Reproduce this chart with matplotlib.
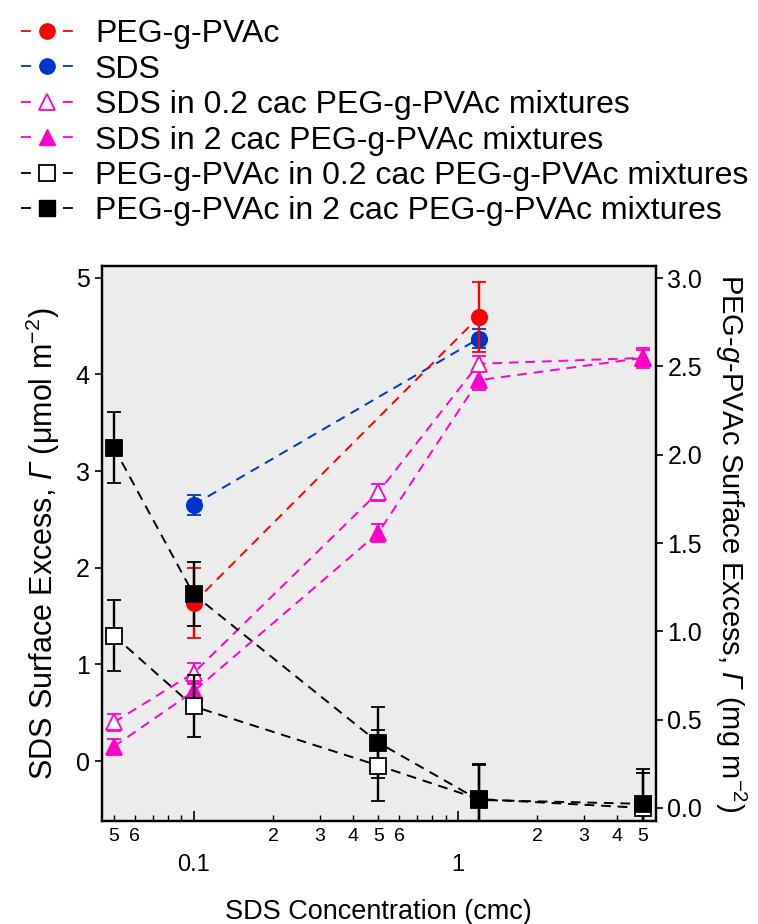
import matplotlib.pyplot as plt
from matplotlib.lines import Line2D

plt.rcParams['font.family'] = ['Liberation Sans', 'DejaVu Sans']
plt.rcParams['mathtext.fontset'] = 'custom'
plt.rcParams['mathtext.rm'] = 'Liberation Sans'
plt.rcParams['mathtext.it'] = 'Liberation Sans:italic'
# italic slot used for the Greek capital (mathtext keeps Greek capitals upright in 'it')
plt.rcParams['mathtext.sf'] = 'Liberation Sans:italic'

# === Data ===
# SDS concentration (cmc)
conc = [0.05, 0.1, 0.5, 1.2, 5]

# left axis: SDS surface excess (umol m^-2)
sds_x = [0.1, 1.2]
sds_y = [2.65, 4.37]
sds_err = [0.10, 0.10]

sds02_y = [0.40, 0.91, 2.78, 4.11, 4.17]
sds02_err = [0.09, 0.10, 0.09, 0.08, 0.08]
sds2_y = [0.15, 0.72, 2.36, 3.94, 4.17]
sds2_err = [0.08, 0.08, 0.09, 0.10, 0.10]

# right axis: PEG-g-PVAc surface excess (mg m^-2)
peg_x = [0.1, 1.2]
peg_y = [1.16, 2.78]
peg_err = [0.20, 0.20]

peg02_y = [0.975, 0.575, 0.24, 0.05, 0.00]
peg02_err = [0.20, 0.175, 0.20, 0.20, 0.20]
peg2_y = [2.04, 1.21, 0.37, 0.045, 0.023]
peg2_err = [0.20, 0.18, 0.20, 0.20, 0.20]

labels = ["PEG-g-PVAc", "SDS",
          "SDS in 0.2 cac PEG-g-PVAc mixtures",
          "SDS in 2 cac PEG-g-PVAc mixtures",
          "PEG-g-PVAc in 0.2 cac PEG-g-PVAc mixtures",
          "PEG-g-PVAc in 2 cac PEG-g-PVAc mixtures"]

red = '#ff0000'
blue = '#0033cc'
pink = '#ff00cc'

# === Figure ===
fig = plt.figure(figsize=(7.58, 9.24), dpi=100)
ax = fig.add_axes([0.134, 0.1115, 0.731, 0.6005])
ax.set_facecolor('#ececec')
ax2 = ax.twinx()

dash = (5, 3.5)


def series(axis, x, y, err, color, marker, face, ms=11, z=3):
    axis.errorbar(x, y, yerr=err, color=color, marker=marker, ms=ms,
                  mfc=face, mec=color, mew=1.3, ls='--', dashes=dash, lw=1.4,
                  ecolor=color, elinewidth=1.7, capsize=5, capthick=1.7,
                  zorder=z)


series(ax, sds_x, sds_y, sds_err, blue, 'o', blue)
series(ax, conc, sds02_y, sds02_err, pink, '^', 'white')
series(ax, conc, sds2_y, sds2_err, pink, '^', pink)
series(ax2, peg_x, peg_y, peg_err, red, 'o', red)
series(ax2, conc, peg02_y, peg02_err, 'black', 's', 'white')
series(ax2, conc, peg2_y, peg2_err, 'black', 's', 'black')

ax.set_xscale('log')
ax.set_xlim(0.0449, 5.6)
ax.set_ylim(-0.62, 5.12)
ax2.set_ylim(-0.074, 3.068)

ax.set_yticks([0, 1, 2, 3, 4, 5])
ax2.set_yticks([0, 0.5, 1.0, 1.5, 2.0, 2.5, 3.0])
ax2.set_yticklabels(['0.0', '0.5', '1.0', '1.5', '2.0', '2.5', '3.0'])

major = [0.1, 1]
minor = [0.05, 0.06, 0.07, 0.08, 0.09, 0.2, 0.3, 0.4, 0.5, 0.6, 0.7, 0.8,
         0.9, 2, 3, 4, 5]
minor_lab = ['5', '6', '', '', '', '2', '3', '4', '5', '6', '', '', '',
             '2', '3', '4', '5']
ax.set_xticks(major)
ax.set_xticklabels(['0.1', '1'])
ax.set_xticks(minor, minor=True)
ax.set_xticklabels(minor_lab, minor=True)

ax.tick_params(axis='x', which='major', direction='in', length=7, width=1.2,
               labelsize=17, pad=24)
ax.tick_params(axis='x', which='minor', direction='in', length=4, width=1.0,
               labelsize=14, pad=5, colors='black')
ax.tick_params(axis='y', direction='out', length=5, width=1.2, labelsize=18)
ax2.tick_params(axis='y', direction='out', length=5, width=1.2, labelsize=18)
ax2.tick_params(axis='x', which='both', top=False)

for sp in ax.spines.values():
    sp.set_linewidth(1.6)
for sp in ax2.spines.values():
    sp.set_linewidth(1.6)

ax.set_xlabel('SDS Concentration (cmc)', fontsize=19.5, labelpad=16)
ax.set_ylabel(r'SDS Surface Excess, $\mathsf{\Gamma}$ ($\mathrm{\mu}$mol m$^{-2}$)',
              fontsize=22, labelpad=10)
ax2.set_ylabel(r'PEG-$\mathit{g}$-PVAc Surface Excess, $\mathsf{\Gamma}$ (mg m$^{-2}$)',
               fontsize=21, rotation=270, labelpad=33)

# === Legend ===
hd = (5.5, 17.7)
handles = [
    Line2D([], [], color=red, marker='o', ms=11, mfc=red, ls='--', lw=1.3, dashes=hd),
    Line2D([], [], color=blue, marker='o', ms=11, mfc=blue, ls='--', lw=1.3, dashes=hd),
    Line2D([], [], color=pink, marker='^', ms=11, mfc='white', mew=1.3, ls='--', lw=1.3, dashes=hd),
    Line2D([], [], color=pink, marker='^', ms=11, mfc=pink, ls='--', lw=1.3, dashes=hd),
    Line2D([], [], color='black', marker='s', ms=11, mfc='white', mew=1.3, ls='--', lw=1.3, dashes=hd),
    Line2D([], [], color='black', marker='s', ms=11, mfc='black', ls='--', lw=1.3, dashes=hd),
]
fig.legend(handles, labels, loc='upper left', bbox_to_anchor=(0.011, 0.993),
           frameon=False, fontsize=23, handlelength=1.63, handletextpad=0.68,
           labelspacing=0.17, borderaxespad=0)

fig.savefig('out.png', dpi=100)
